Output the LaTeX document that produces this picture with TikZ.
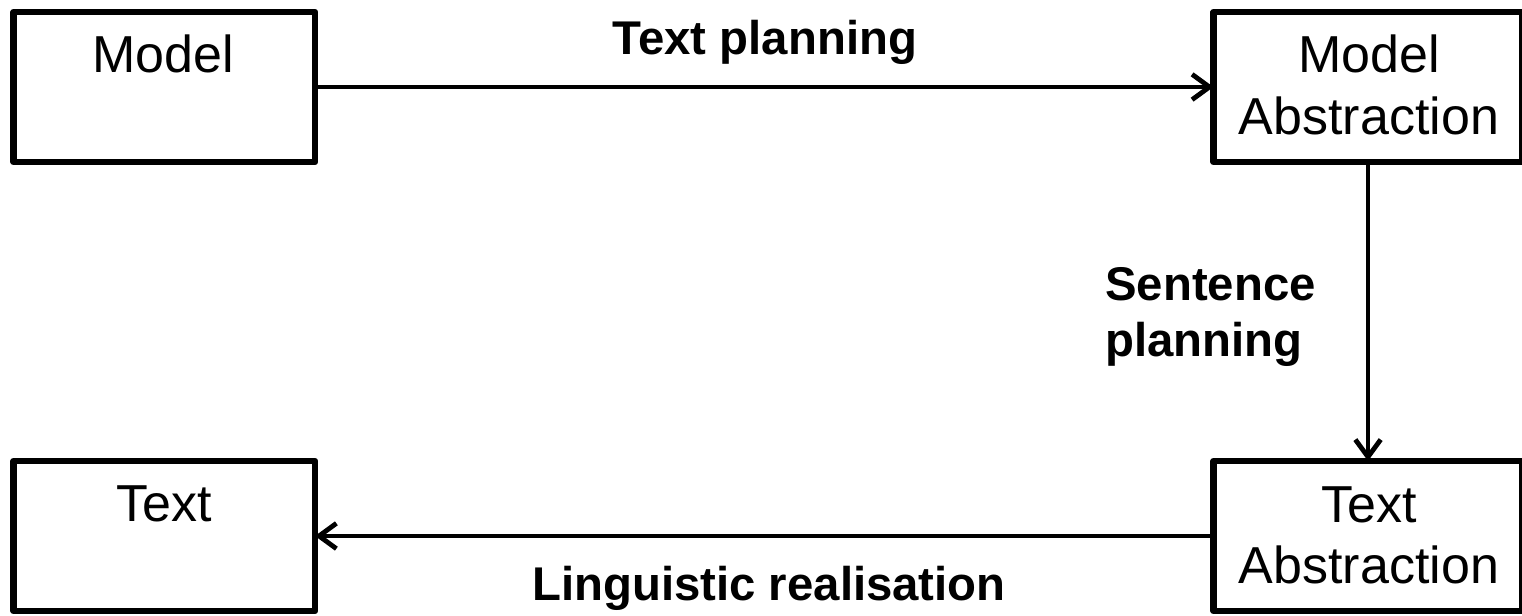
\documentclass[tikz,border=0pt]{standalone}
\usepackage{fontspec}
\setmainfont{Liberation Sans}
\usetikzlibrary{arrows.meta}
\begin{document}
\begin{tikzpicture}[x=0.75pt,y=-0.75pt,
  box/.style={draw=black,line width=4.8pt,line join=round,rectangle,inner sep=0pt,outer sep=0pt},
  boxtext/.style={font=\fontsize{39}{46.5}\selectfont,align=center,inner sep=0pt,anchor=base},
  steplabel/.style={font=\fontsize{35.5}{42.5}\selectfont\bfseries,inner sep=0pt},
  conn/.style={line width=3.6pt,-{Straight Barb[length=13pt,width=19pt,line width=3.6pt]}}]
\useasboundingbox (0,0) rectangle (1522,616);
% boxes
\node[box,minimum width=226.1pt,minimum height=112.5pt] (model) at (164.25,87) {};
\node[box,minimum width=231.75pt,minimum height=112.5pt] (mabs) at (1368,87) {};
\node[box,minimum width=226.1pt,minimum height=112.5pt] (text) at (164.25,536) {};
\node[box,minimum width=231.75pt,minimum height=112.5pt] (tabs) at (1368,536) {};
% box texts
\node[boxtext] (modeltxt) at (163,73) {Model};
\node[boxtext] (mabstxt) at (1369,135) {Model\\Abstraction};
\node[boxtext] (texttxt) at (164,522) {Text};
\node[boxtext] (tabstxt) at (1369,584) {Text\\Abstraction};
% connectors
\draw[conn] (model.east) -- (mabs.west);
\draw[conn] (mabs.south) -- (tabs.north);
\draw[conn] (tabs.west) -- (text.east);
% labels
\node[steplabel,anchor=base] (tp) at (765,55) {Text planning};
\node[steplabel,anchor=base west,align=left] (sp) at (1105,357) {Sentence\\planning};
\node[steplabel,anchor=base] (lr) at (769,600) {Linguistic realisation};
\end{tikzpicture}
\end{document}
